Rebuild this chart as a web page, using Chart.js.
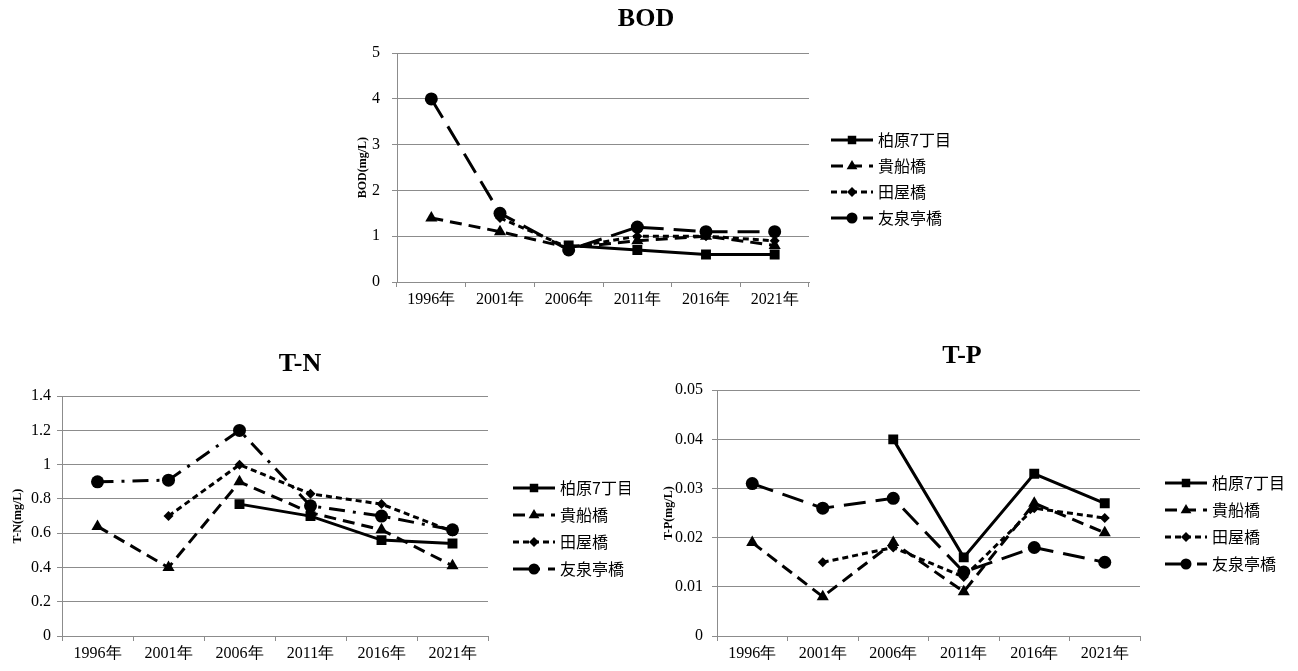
<!DOCTYPE html>
<html lang="ja">
<head>
<meta charset="UTF-8" />
<title>BOD / T-N / T-P</title>
<script src="https://cdn.jsdelivr.net/npm/chart.js@4"></script>
<style>
  html, body { margin: 0; padding: 0; background: #fff; width: 1298px; height: 671px; overflow: hidden; }
  .box { position: absolute; }
</style>
</head>
<body>
<div class="box" style="left:356px; top:0px; width:595px; height:312px;"><canvas id="bod"></canvas></div>
<div class="box" style="left:11px; top:340px; width:619px; height:326px;"><canvas id="tn"></canvas></div>
<div class="box" style="left:662px; top:330px; width:636px; height:336px;"><canvas id="tp"></canvas></div>

<script>
// categories
const years = ["1996年", "2001年", "2006年", "2011年", "2016年", "2021年"];
const sites = ["柏原7丁目", "貴船橋", "田屋橋", "友泉亭橋"];

// BOD (mg/L)
const bodKashiwara = [null, null, 0.8, 0.7, 0.6, 0.6];
const bodKifune = [1.4, 1.1, 0.75, 0.9, 1.0, 0.8];
const bodTaya = [null, 1.4, 0.75, 1.0, 1.0, 0.9];
const bodYusentei = [4.0, 1.5, 0.7, 1.2, 1.1, 1.1];

// T-N (mg/L)
const tnKashiwara = [null, null, 0.77, 0.7, 0.56, 0.54];
const tnKifune = [0.64, 0.4, 0.9, 0.72, 0.62, 0.41];
const tnTaya = [null, 0.7, 1.0, 0.83, 0.77, 0.61];
const tnYusentei = [0.9, 0.91, 1.2, 0.76, 0.7, 0.62];

// T-P (mg/L)
const tpKashiwara = [null, null, 0.04, 0.016, 0.033, 0.027];
const tpKifune = [0.019, 0.008, 0.019, 0.009, 0.027, 0.021];
const tpTaya = [null, 0.015, 0.018, 0.012, 0.026, 0.024];
const tpYusentei = [0.031, 0.026, 0.028, 0.013, 0.018, 0.015];

const SERIF = "'Liberation Serif', 'Times New Roman', serif";
const SANS = "'Noto Sans CJK JP', 'Noto Sans', sans-serif";
const GRID = "#8c8c8c";

const markers = ["rect", "triangle", "rectRot", "circle"];
const radii = [7, 7, 5, 6.5];

// little line+marker picture for the legend
function drawMarker(ctx, style, r, x, y) {
  ctx.beginPath();
  if (style === "rect") {
    const s = r * Math.SQRT1_2;
    ctx.rect(x - s, y - s, 2 * s, 2 * s);
  } else if (style === "triangle") {
    ctx.moveTo(x, y - r);
    ctx.lineTo(x + r * 0.9, y + r * 0.55);
    ctx.lineTo(x - r * 0.9, y + r * 0.55);
    ctx.closePath();
  } else if (style === "rectRot") {
    ctx.moveTo(x, y - r);
    ctx.lineTo(x + r, y);
    ctx.lineTo(x, y + r);
    ctx.lineTo(x - r, y);
    ctx.closePath();
  } else {
    ctx.arc(x, y, r, 0, Math.PI * 2);
  }
  ctx.fill();
}

function legendIcon(dash, i) {
  const c = document.createElement("canvas");
  c.width = 44;
  c.height = 16;
  const ctx = c.getContext("2d");
  ctx.strokeStyle = "#000";
  ctx.fillStyle = "#000";
  ctx.lineWidth = 3;
  ctx.setLineDash(dash);
  ctx.beginPath();
  ctx.moveTo(1, 8);
  ctx.lineTo(43, 8);
  ctx.stroke();
  ctx.setLineDash([]);
  drawMarker(ctx, markers[i], [6, 6, 5, 5.5][i], 22, 8);
  return c;
}

// puts the title and the legend where the original has them
const placer = {
  id: "placer",
  afterLayout(chart, args, opts) {
    const t = chart.titleBlock;
    if (t) {
      const d = opts.titleX - (t.left + t.right) / 2;
      t.left += d;
      t.right += d;
    }
    const lg = chart.legend;
    if (lg) {
      lg.left = opts.legendX - opts.pad + 4;
      lg.right = lg.left + 200;
      lg.width = 200;
      lg.top = opts.legendY - 8 - opts.pad;
      lg.bottom = lg.top + 200;
      lg.height = 200;
    }
  },
};

function makeChart(id, cfg, series, dashes) {
  const datasets = series.map((vals, i) => ({
    label: sites[i],
    data: vals,
    borderColor: "#000",
    backgroundColor: "#000",
    borderWidth: 3,
    borderDash: dashes[i],
    pointStyle: markers[i],
    pointRadius: radii[i],
    pointBackgroundColor: "#000",
    pointBorderColor: "#000",
    pointBorderWidth: 0,
    tension: 0,
    spanGaps: true,
  }));

  return new Chart(document.getElementById(id), {
    type: "line",
    data: { labels: years, datasets: datasets },
    plugins: [placer],
    options: {
      responsive: true,
      maintainAspectRatio: false,
      animation: false,
      layout: { padding: { left: 0, right: cfg.padRight, top: 0, bottom: 0 } },
      plugins: {
        tooltip: { enabled: false },
        placer: { titleX: cfg.titleX, legendX: cfg.legendX, legendY: cfg.legendY, pad: cfg.legendPad },
        title: {
          display: true,
          text: cfg.title,
          color: "#000",
          font: { family: SERIF, size: 26, weight: "bold" },
          padding: { top: cfg.titleTop, bottom: cfg.titleBottom },
        },
        legend: {
          position: "right",
          align: "start",
          maxWidth: 10,
          labels: {
            usePointStyle: true,
            pointStyleWidth: 36,
            color: "#000",
            font: { family: SANS, size: 16 },
            padding: cfg.legendPad,
            generateLabels: (chart) =>
              chart.data.datasets.map((ds, i) => ({
                text: ds.label,
                pointStyle: legendIcon(dashes[i], i),
                fontColor: "#000",
                lineWidth: 0,
                datasetIndex: i,
              })),
          },
        },
      },
      scales: {
        x: {
          offset: true,
          afterFit: (s) => { s.height = 30; },
          grid: {
            offset: true,
            drawOnChartArea: false,
            color: GRID,
            tickLength: 5,
          },
          border: { color: GRID, width: 1 },
          ticks: { color: "#000", font: { family: SERIF, size: 16 }, padding: 3, maxRotation: 0 },
        },
        y: {
          min: 0,
          max: cfg.yMax,
          afterFit: (s) => { s.width = cfg.yWidth; },
          grid: { color: GRID, tickLength: 5 },
          border: { color: GRID, width: 1 },
          title: {
            display: true,
            text: cfg.yTitle,
            color: "#000",
            font: { family: SERIF, size: 12, weight: "bold" },
            padding: { top: 0, bottom: 0 },
          },
          ticks: {
            stepSize: cfg.yStep,
            color: "#000",
            font: { family: SERIF, size: 16 },
            padding: cfg.tickPad,
            callback: (v) => String(Number(v.toFixed(3))),
          },
        },
      },
    },
  });
}

makeChart("bod", {
  title: "BOD", yTitle: "BOD(mg/L)", yMax: 5, yStep: 1,
  yWidth: 41, padRight: 132, titleTop: 4, titleBottom: 18, tickPad: 12,
  titleX: 290, legendX: 474, legendY: 140, legendPad: 10,
}, [bodKashiwara, bodKifune, bodTaya, bodYusentei],
  [[], [12, 7], [6, 4], [22, 10]]);

makeChart("tn", {
  title: "T-N", yTitle: "T-N(mg/L)", yMax: 1.4, yStep: 0.2,
  yWidth: 51, padRight: 132, titleTop: 9, titleBottom: 16, tickPad: 6,
  titleX: 289, legendX: 501, legendY: 148, legendPad: 11,
}, [tnKashiwara, tnKifune, tnTaya, tnYusentei],
  [[], [12, 7], [6, 4], [16, 8, 3, 8]]);

makeChart("tp", {
  title: "T-P", yTitle: "T-P(mg/L)", yMax: 0.05, yStep: 0.01,
  yWidth: 55, padRight: 148, titleTop: 11, titleBottom: 18, tickPad: 9,
  titleX: 300, legendX: 502, legendY: 153, legendPad: 11,
}, [tpKashiwara, tpKifune, tpTaya, tpYusentei],
  [[], [12, 7], [6, 4], [22, 10]]);
</script>
</body>
</html>
